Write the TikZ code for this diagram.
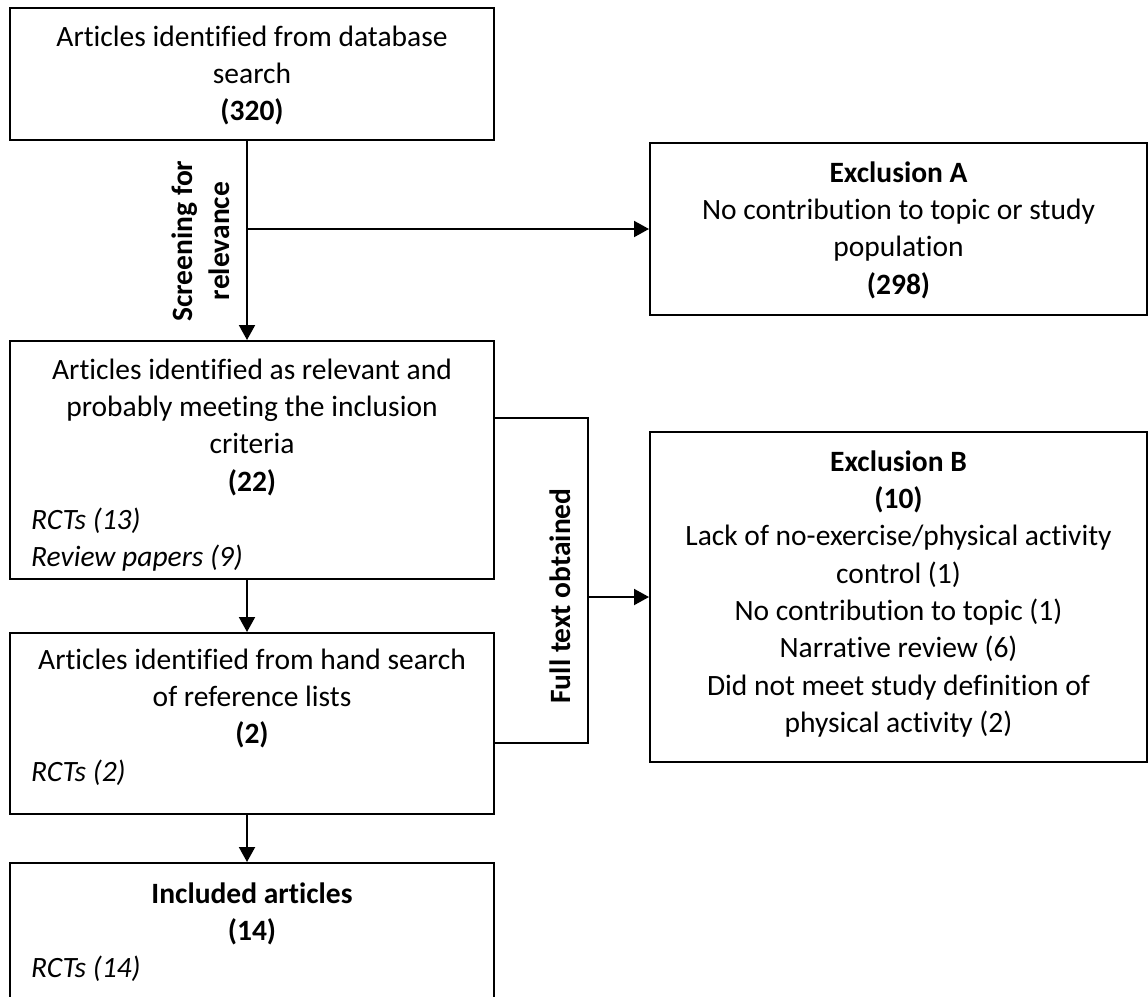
\documentclass[tikz,border=0pt]{standalone}
\usepackage{fontspec}
\setmainfont{Carlito}[Ligatures=NoCommon]
\usetikzlibrary{arrows.meta}

\tikzset{
  box/.style={draw, line width=2pt, inner sep=0pt, minimum width=484pt},
  exbox/.style={draw, line width=2pt, inner sep=0pt, minimum width=497pt},
  txt/.style={inner sep=0pt, align=center, font=\fontsize{29.5}{37.3}\selectfont},
  subtxt/.style={inner sep=0pt, align=left, font=\fontsize{29.5}{37.3}\selectfont\itshape},
  sidetxt/.style={inner sep=0pt, align=center, rotate=90, font=\fontsize{29.5}{37.3}\selectfont\bfseries},
  link/.style={line width=2pt},
  arr/.style={line width=2pt, -{Triangle[length=15pt,width=16pt]}}
}

\begin{document}
\begin{tikzpicture}[x=1pt, y=-1pt]
  \useasboundingbox (0,0) rectangle (1148,996);
  \clip (0,0) rectangle (1148,996);

  % left column of boxes
  \node[box, minimum height=132pt] (b1) at (252,74) {};
  \node[box, minimum height=238pt] (b2) at (252,460) {};
  \node[box, minimum height=181pt] (b3) at (252,723.5) {};
  \node[box, minimum height=147pt] (b4) at (252,936.5) {};

  % exclusion boxes
  \node[exbox, minimum height=172pt] (exA) at (898.5,229) {};
  \node[exbox, minimum height=330pt] (exB) at (898.5,597) {};

  % box texts
  \node[txt, anchor=north] (b1t) at ([yshift=-13pt]b1.north)
    {\strut Articles identified from database\\search\\\textbf{(320)}};
  \node[txt, anchor=north] (b2t) at ([yshift=-13pt]b2.north)
    {\strut Articles identified as relevant and\\probably meeting the inclusion\\criteria\\\textbf{(22)}};
  \node[subtxt, anchor=north west] (b2s) at ([xshift=22pt, yshift=-163pt]b2.north west)
    {\strut RCTs (13)\\Review papers (9)};
  \node[txt, anchor=north] (b3t) at ([yshift=-11pt]b3.north)
    {\strut Articles identified from hand search\\of reference lists\\\textbf{(2)}};
  \node[subtxt, anchor=north west] (b3s) at ([xshift=22pt, yshift=-123pt]b3.north west)
    {\strut RCTs (2)};
  \node[txt, anchor=north] (b4t) at ([yshift=-15pt]b4.north)
    {\strut\textbf{Included articles}\\\textbf{(14)}};
  \node[subtxt, anchor=north west] (b4s) at ([xshift=22pt, yshift=-89pt]b4.north west)
    {\strut RCTs (14)};

  \node[txt, anchor=north] (exAt) at ([yshift=-14pt]exA.north)
    {\strut\textbf{Exclusion A}\\No contribution to topic or study\\population\\\textbf{(298)}};
  \node[txt, anchor=north] (exBt) at ([yshift=-14pt]exB.north)
    {\strut\textbf{Exclusion B}\\\textbf{(10)}\\Lack of no-exercise/physical activity\\control (1)\\No contribution to topic (1)\\Narrative review (6)\\Did not meet study definition of\\physical activity (2)};

  % connector labels
  \node[sidetxt] (scr) at (201,241) {Screening for\\relevance};
  \node[sidetxt] (ful) at (560,596) {Full text obtained};

  % main flow
  \coordinate (trk) at ([xshift=-5pt]b1.south);
  \draw[arr] (trk) -- (b2.north -| trk);
  \draw[arr] (exA.west -| trk) -- (exA.west);
  \draw[arr] (b2.south -| trk) -- (b3.north -| trk);
  \draw[arr] (b3.south -| trk) -- (b4.north -| trk);

  % bracket joining the two middle boxes to Exclusion B
  \draw[link] ([yshift=42pt]b2.east) -- ++(93,0) coordinate (bk)
    |- ([yshift=-19.5pt]b3.east);
  \draw[arr] (exB.west -| bk) -- (exB.west);
\end{tikzpicture}
\end{document}
